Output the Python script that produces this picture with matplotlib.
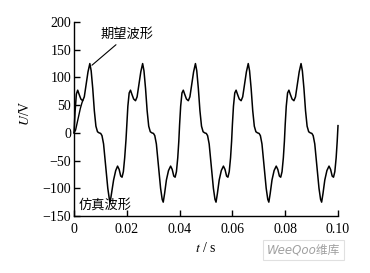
import matplotlib
matplotlib.use("Agg")
import matplotlib.pyplot as plt
import numpy as np

# simulated waveform (t in ms, U in V)
t_sim_ms = [
    0.0, 0.4, 0.9, 1.4, 1.9, 2.6, 3.3, 3.9, 4.6, 5.3, 6.0, 6.5, 7.1, 7.7, 8.3, 8.9, 9.5,
    10.1, 10.6, 11.2, 12.0, 12.8, 13.4, 13.7, 14.2, 15.0, 15.8, 16.5, 17.1, 17.7, 18.2, 18.7, 19.2, 19.7,
    20.0, 20.4, 20.9, 21.4, 21.9, 22.6, 23.3, 23.9, 24.6, 25.3, 26.0, 26.5, 27.1, 27.7, 28.3, 28.9, 29.5,
    30.1, 30.6, 31.2, 32.0, 32.8, 33.4, 33.8, 34.3, 35.0, 35.8, 36.6, 37.2, 37.8, 38.3, 38.8, 39.3, 39.7,
    40.0, 40.4, 40.9, 41.4, 41.9, 42.6, 43.3, 43.9, 44.6, 45.3, 46.0, 46.5, 47.1, 47.7, 48.3, 48.9, 49.5,
    50.1, 50.6, 51.2, 52.0, 52.8, 53.4, 53.8, 54.3, 55.0, 55.8, 56.6, 57.2, 57.8, 58.3, 58.8, 59.3, 59.7,
    60.0, 60.4, 60.9, 61.4, 61.9, 62.6, 63.3, 63.9, 64.6, 65.3, 66.0, 66.5, 67.1, 67.7, 68.3, 68.9, 69.5,
    70.1, 70.6, 71.2, 72.0, 72.8, 73.4, 73.8, 74.3, 75.0, 75.8, 76.6, 77.2, 77.8, 78.3, 78.8, 79.3, 79.7,
    80.0, 80.4, 80.9, 81.4, 81.9, 82.6, 83.3, 83.9, 84.6, 85.3, 86.0, 86.5, 87.1, 87.7, 88.3, 88.9, 89.5,
    90.1, 90.6, 91.2, 92.0, 92.8, 93.4, 93.8, 94.3, 95.0, 95.8, 96.6, 97.2, 97.8, 98.3, 98.8, 99.3, 99.7,
    100.0,
]
u_sim = [
    0, 38, 70, 77, 70, 61, 58, 65, 88, 110, 125, 112, 80, 40, 12, 2, 0,
    -1, -5, -20, -60, -100, -120, -125, -110, -85, -68, -60, -66, -78, -80, -70, -45, -12,
    15, 48, 72, 77, 70, 61, 58, 65, 88, 110, 125, 112, 80, 40, 12, 2, 0,
    -1, -5, -20, -60, -100, -120, -125, -110, -85, -68, -60, -66, -78, -80, -70, -45, -15,
    15, 48, 72, 77, 70, 61, 58, 65, 88, 110, 125, 112, 80, 40, 12, 2, 0,
    -1, -5, -20, -60, -100, -120, -125, -110, -85, -68, -60, -66, -78, -80, -70, -45, -15,
    15, 48, 72, 77, 70, 61, 58, 65, 88, 110, 125, 112, 80, 40, 12, 2, 0,
    -1, -5, -20, -60, -100, -120, -125, -110, -85, -68, -60, -66, -78, -80, -70, -45, -15,
    15, 48, 72, 77, 70, 61, 58, 65, 88, 110, 125, 112, 80, 40, 12, 2, 0,
    -1, -5, -20, -60, -100, -120, -125, -110, -85, -68, -60, -66, -78, -80, -70, -45, -15,
    13,
]

# expected waveform start (merges with simulated one afterwards)
t_exp_ms = [0.0, 0.6, 1.2, 1.8, 2.4, 3.0, 3.3]
u_exp = [0, 5, 18, 31, 44, 54, 58]

x_ticks = [0, 0.02, 0.04, 0.06, 0.08, 0.10]
x_ticklabels = ["0", "0.02", "0.04", "0.06", "0.08", "0.10"]
y_ticks = [-150, -100, -50, 0, 50, 100, 150, 200]

plt.rcParams['font.family'] = ['Liberation Serif', 'Noto Sans CJK SC']
plt.rcParams['mathtext.fontset'] = 'stix'

fig = plt.figure(figsize=(3.70, 2.73), dpi=100)
ax = fig.add_axes([74/370, 1 - 216/273, (338 - 74)/370, (216 - 22)/273])

t_sim = np.array(t_sim_ms) / 1000.0
t_exp = np.array(t_exp_ms) / 1000.0
ax.plot(t_sim, u_sim, color='black', lw=1.1, clip_on=False)
ax.plot(t_exp, u_exp, color='black', lw=1.0, clip_on=False)

ax.set_xlim(0, 0.1)
ax.set_ylim(-150, 200)
ax.set_xticks(x_ticks)
ax.set_xticklabels(x_ticklabels)
ax.set_yticks(y_ticks)
for s in ['top', 'right']:
    ax.spines[s].set_visible(False)
for s in ['left', 'bottom']:
    ax.spines[s].set_linewidth(1.0)
ax.tick_params(direction='in', length=4, width=1.0, labelsize=10)
ax.tick_params(axis='x', pad=5)
ax.tick_params(axis='y', pad=2)

ax.set_ylabel('$U$/V', fontsize=10, labelpad=3)
ax.yaxis.set_label_coords(-0.16, 0.53)
ax.set_xlabel('$t$ / s', fontsize=10, labelpad=4)

cjk = ['Noto Sans CJK SC', 'DejaVu Sans']
ax.annotate('', xy=(0.0068, 122), xytext=(0.0159, 159),
            arrowprops=dict(arrowstyle='-', lw=0.8, color='black',
                            shrinkA=0, shrinkB=0), annotation_clip=False)
ax.text(0.0201, 177, '期望波形', family=cjk, fontsize=9.5,
        ha='center', va='center')
ax.text(0.0117, -130, '仿真波形', family=cjk, fontsize=9.5,
        ha='center', va='center')

fig.text(0.82, 0.085, 'WeeQoo维库', family=['DejaVu Sans', 'Noto Sans CJK SC'],
         fontsize=8.5, color='#a0a0a0', style='italic', ha='center', va='center',
         bbox=dict(boxstyle='square,pad=0.3', fc='white', ec='#e0e0e0', lw=0.8))

fig.savefig('out.png', dpi=100)
